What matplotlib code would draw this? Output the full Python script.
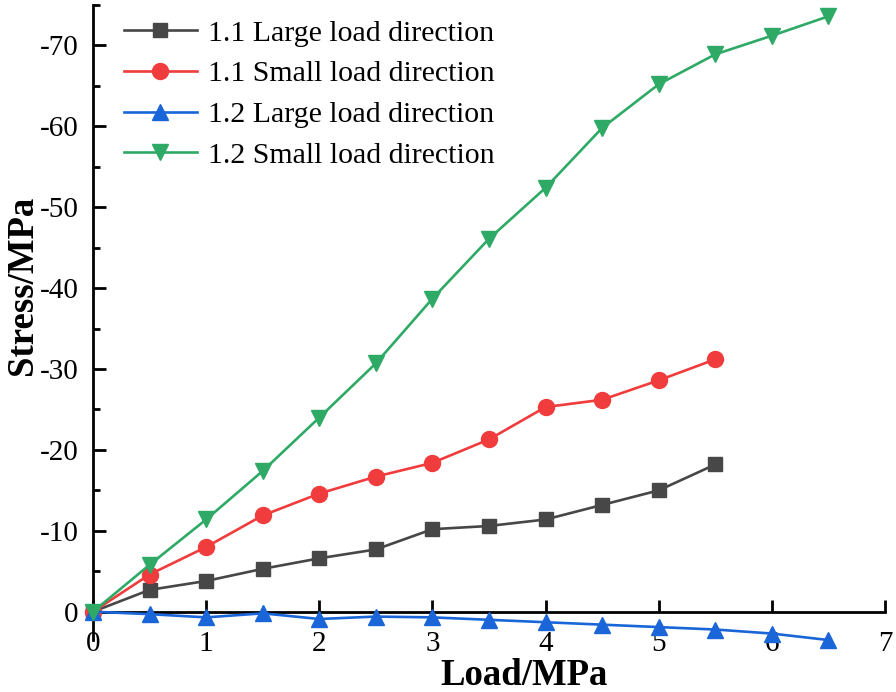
import matplotlib
matplotlib.use("Agg")
import matplotlib.pyplot as plt
from matplotlib.ticker import MultipleLocator, FuncFormatter

plt.rcParams["font.family"] = ["Liberation Serif", "DejaVu Serif"]

# ── data ──────────────────────────────────────────────────────────────────────
load_a = [0, 0.5, 1, 1.5, 2, 2.5, 3, 3.5, 4, 4.5, 5, 5.5]
load_b = [0, 0.5, 1, 1.5, 2, 2.5, 3, 3.5, 4, 4.5, 5, 5.5, 6, 6.5]

s11_large = [0, -2.7, -3.8, -5.3, -6.6, -7.7, -10.2, -10.6, -11.4, -13.2, -15.0, -18.2]
s11_small = [0, -4.6, -8.0, -11.9, -14.6, -16.7, -18.4, -21.3, -25.3, -26.2, -28.6, -31.2]
s12_large = [0, 0.3, 0.7, 0.2, 0.9, 0.6, 0.7, 1.0, 1.3, 1.6, 1.9, 2.2, 2.7, 3.5]
s12_small = [0, -5.8, -11.4, -17.4, -24.0, -30.7, -38.7, -46.1, -52.4, -59.8, -65.2, -68.9, -71.2, -73.6]

labels = ["1.1 Large load direction", "1.1 Small load direction",
          "1.2 Large load direction", "1.2 Small load direction"]
colors = ["#474747", "#f03c3c", "#1a66d9", "#2eaa66"]

# ── figure ────────────────────────────────────────────────────────────────────
fig = plt.figure(figsize=(8.96, 6.92), dpi=100)
ax = fig.add_axes([0.1038, 0.0751, 0.8839, 0.9177])

series = [(load_a, s11_large, "s", 10.5), (load_a, s11_small, "o", 11.5),
          (load_b, s12_large, "^", 11.5), (load_b, s12_small, "v", 11.5)]
for (x, y, m, ms), lab, c in zip(series, labels, colors):
    ax.plot(x, y, color=c, marker=m, markersize=ms, linewidth=1.9,
            label=lab, clip_on=False, zorder=3)

ax.set_xlim(0, 7)
ax.set_ylim(3.5, -75)

ax.spines["top"].set_visible(False)
ax.spines["right"].set_visible(False)
ax.spines["bottom"].set_position(("data", 0))
for s in ("left", "bottom"):
    ax.spines[s].set_linewidth(2)

ax.xaxis.set_major_locator(MultipleLocator(1))
ax.yaxis.set_major_locator(MultipleLocator(10))
ax.yaxis.set_minor_locator(MultipleLocator(5))
ax.yaxis.set_major_formatter(FuncFormatter(lambda v, p: f"{v:.0f}"))
ax.tick_params(axis="both", which="major", direction="in", length=9, width=2,
               labelsize=21)
ax.tick_params(axis="y", which="minor", direction="in", length=5, width=2)
ax.tick_params(axis="x", pad=14)
ax.tick_params(axis="y", pad=10.5)

ax.set_xlabel("Load/MPa", fontsize=26.5, fontweight="bold")
ax.set_ylabel("Stress/MPa", fontsize=26.5, fontweight="bold")
ax.xaxis.set_label_coords(0.544, -0.029)
ax.yaxis.set_label_coords(-0.067, 0.559)

ax.legend(loc="upper left", bbox_to_anchor=(0.02, 1.0), frameon=False,
          fontsize=21.5, handlelength=2.45, handletextpad=0.36,
          labelspacing=0.46, borderaxespad=0.1)

fig.savefig("out.png", dpi=100)
